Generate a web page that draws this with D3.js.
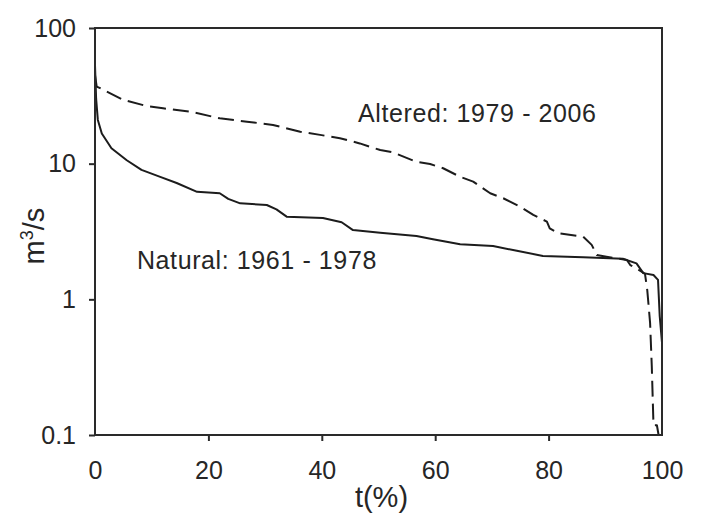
<!DOCTYPE html>
<html>
<head>
<meta charset="utf-8">
<script src="https://cdn.jsdelivr.net/npm/d3@7"></script>
<style>
  body { margin: 0; background: #fff; }
  svg { display: block; font-family: "Liberation Sans", Arial, sans-serif; }
  .curve { fill: none; stroke: #1c1c1c; stroke-width: 2; stroke-linejoin: round; }
  .frame { fill: none; stroke: #2a2a2a; stroke-width: 2; }
  .axis text { font-size: 25px; fill: #262626; font-family: "Liberation Sans", Arial, sans-serif; }
  .axis line { stroke: #2a2a2a; stroke-width: 2; }
  .label { font-size: 25px; fill: #262626; letter-spacing: 0.6px; }
  .title { font-size: 29px; fill: #262626; }
</style>
</head>
<body>
<div id="wrapper"></div>
<script>
// flow duration curves
const naturalT = [0, 0.2, 0.5, 1.2, 2.9, 5.6, 8.2, 11.5, 14.4, 18, 22, 23.5, 25.6, 30.3, 32, 33.8, 40.2, 43.5, 45.5, 50.3, 56.7, 59.6, 64.4, 70.2, 74.4, 79, 86.1, 93.1, 95.5, 96.7, 98.5, 99.3, 99.6, 100]
const naturalQ = [53, 30, 21, 16.7, 13, 10.6, 9.0, 8.0, 7.2, 6.2, 6.05, 5.5, 5.1, 4.96, 4.6, 4.07, 3.98, 3.7, 3.24, 3.09, 2.93, 2.77, 2.55, 2.47, 2.28, 2.09, 2.04, 1.99, 1.84, 1.56, 1.51, 1.39, 0.75, 0.48]

const alteredT = [0, 0.3, 0.9, 5, 9.1, 12, 16.8, 22, 26.8, 31.4, 36.2, 39.7, 43.2, 46.7, 50.3, 52.6, 56.7, 59.1, 61.4, 64.4, 66.7, 69.7, 72, 75, 77.3, 79.7, 80.2, 81.7, 86.1, 87.6, 88.5, 90.2, 93.8, 94.4, 95.5, 96.4, 97, 97.4, 97.9, 98.2, 98.5, 99.1, 99.4]
const alteredQ = [45, 37, 36, 29.5, 26.6, 25.6, 24.2, 21.6, 20.4, 19.3, 17.2, 16.3, 15.4, 14.1, 12.6, 12.1, 10.3, 9.95, 9.25, 8.0, 7.37, 6.05, 5.56, 4.82, 4.19, 3.74, 3.34, 3.07, 2.9, 2.52, 2.12, 2.06, 1.95, 1.79, 1.69, 1.6, 1.54, 1.17, 0.67, 0.32, 0.118, 0.118, 0.1]

const xTicks = [0, 20, 40, 60, 80, 100]
const yTicks = [0.1, 1, 10, 100]

const naturalLabel = "Natural: 1961 - 1978"
const alteredLabel = "Altered: 1979 - 2006"

function drawChart() {
  let dimensions = {
    width: 703,
    height: 513,
    margin: { top: 28, right: 41, bottom: 78, left: 95 },
  }
  dimensions.boundedWidth = dimensions.width - dimensions.margin.left - dimensions.margin.right
  dimensions.boundedHeight = dimensions.height - dimensions.margin.top - dimensions.margin.bottom

  const wrapper = d3.select("#wrapper")
    .append("svg")
      .attr("width", dimensions.width)
      .attr("height", dimensions.height)

  const bounds = wrapper.append("g")
      .attr("transform", `translate(${dimensions.margin.left}, ${dimensions.margin.top})`)

  // scales
  const xScale = d3.scaleLinear()
    .domain([0, 100])
    .range([0, dimensions.boundedWidth])

  const yScale = d3.scaleLog()
    .domain([0.1, 100])
    .range([dimensions.boundedHeight, 0])

  // curves
  const natural = naturalT.map((t, i) => ({ t, q: naturalQ[i] }))
  const altered = alteredT.map((t, i) => ({ t, q: alteredQ[i] }))

  const lineGenerator = d3.line()
    .x(d => xScale(d.t))
    .y(d => yScale(d.q))

  bounds.append("path")
      .attr("class", "curve")
      .attr("d", lineGenerator(altered))
      .attr("stroke-dasharray", "16,7")

  bounds.append("path")
      .attr("class", "curve")
      .attr("d", lineGenerator(natural))

  // axes
  const yAxis = bounds.append("g")
      .attr("class", "axis")
      .call(d3.axisLeft(yScale)
        .tickValues(yTicks)
        .tickFormat(d3.format("~g"))
        .tickSize(6)
        .tickSizeOuter(0)
        .tickPadding(13))
  yAxis.select(".domain").remove()

  const xAxis = bounds.append("g")
      .attr("class", "axis")
      .attr("transform", `translate(0, ${dimensions.boundedHeight})`)
      .call(d3.axisBottom(xScale)
        .tickValues(xTicks)
        .tickSize(6)
        .tickSizeOuter(0)
        .tickPadding(20))
  xAxis.select(".domain").remove()
  xAxis.selectAll(".tick line")
      .filter(d => d == 0 || d == 100)
      .remove()

  bounds.append("rect")
      .attr("class", "frame")
      .attr("width", dimensions.boundedWidth)
      .attr("height", dimensions.boundedHeight)

  // labels
  bounds.append("text")
      .attr("class", "label")
      .attr("x", xScale(7.4))
      .attr("y", yScale(1.95) + 9)
      .text(naturalLabel)

  bounds.append("text")
      .attr("class", "label")
      .attr("x", xScale(46.4))
      .attr("y", yScale(21.3) + 3)
      .text(alteredLabel)

  bounds.append("text")
      .attr("class", "title")
      .attr("x", dimensions.boundedWidth / 2 + 3)
      .attr("y", dimensions.boundedHeight + 72)
      .attr("text-anchor", "middle")
      .text("t(%)")

  const yTitle = wrapper.append("text")
      .attr("class", "title")
      .attr("transform", `translate(44, 236) rotate(-90)`)
      .attr("text-anchor", "middle")
  yTitle.append("tspan").text("m")
  yTitle.append("tspan").attr("dy", -11).style("font-size", "18px").text("3")
  yTitle.append("tspan").attr("dy", 11).text("/s")
}
drawChart()
</script>
</body>
</html>
